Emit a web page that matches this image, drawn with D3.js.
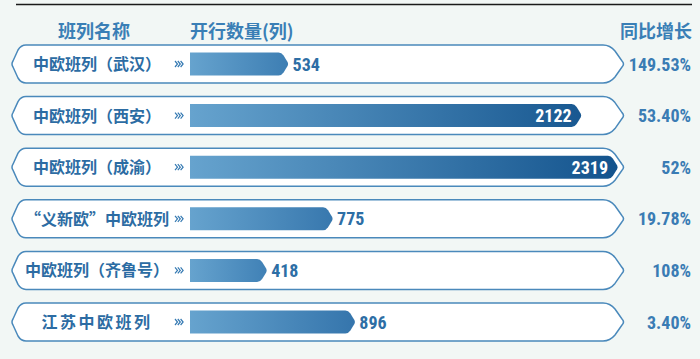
<!DOCTYPE html>
<html lang="zh">
<head>
  <meta charset="UTF-8">
  <title>中欧班列开行数量</title>
  <script src="https://d3js.org/d3.v7.min.js"></script>
  <style>
    * { margin: 0; padding: 0; box-sizing: border-box; }
    body { background: #f2f7f5; width: 700px; height: 359px; overflow: hidden; }
    svg { display: block; }
    .cjk { font-family: "Noto Sans CJK SC", sans-serif; font-weight: 700; }
    .num { font-family: "Liberation Sans Narrow", "Roboto Condensed", "Arial Narrow", sans-serif; font-weight: 700; }
  </style>
</head>
<body>
  <svg id="chart"></svg>
  <script>
    const names = ["中欧班列（武汉）", "中欧班列（西安）", "中欧班列（成渝）", "“义新欧”中欧班列", "中欧班列（齐鲁号）", "江苏中欧班列"];
    const trains = [534, 2122, 2319, 775, 418, 896];
    const growth = ["149.53%", "53.40%", "52%", "19.78%", "108%", "3.40%"];
    const headers = ["班列名称", "开行数量(列)", "同比增长"];

    const width = 700, height = 359;
    const rowH = 38, barH = 23;

    const svg = d3.select("#chart").attr("width", width).attr("height", height);

    const y = d3.scalePoint().domain(names).range([64, 322]);
    const x = d3.scaleLinear().domain([0, 2319]).range([190, 618]);
    const endColor = d3.scaleLinear().domain([0, 2319]).range(["#4a8bbf", "#13538d"]);

    // top rule
    svg.append("line")
      .attr("x1", 16).attr("x2", 692).attr("y1", 4.5).attr("y2", 4.5)
      .attr("stroke", "#1a1a1a").attr("stroke-width", 1.6);

    // headers
    svg.append("text").attr("class", "cjk")
      .attr("x", 94).attr("y", 38).attr("text-anchor", "middle")
      .attr("font-size", 18).attr("fill", "#3a7fb6").text(headers[0]);
    svg.append("text").attr("class", "cjk")
      .attr("x", 190).attr("y", 38)
      .attr("font-size", 18).attr("fill", "#3a7fb6").text(headers[1]);
    svg.append("text").attr("class", "cjk")
      .attr("x", 692).attr("y", 38).attr("text-anchor", "end")
      .attr("font-size", 18).attr("fill", "#3a7fb6").text(headers[2]);

    function capsule(cy) {
      const t = cy - rowH / 2, b = cy + rowH / 2;
      return `M26,${t} L603,${t} Q610,${t} 615,${t + 6} L622,${cy - 3} Q625,${cy} 622,${cy + 3}
              L615,${b - 6} Q610,${b} 603,${b} L26,${b} Q21,${b} 18,${b - 5}
              L13,${cy + 3} Q11,${cy} 13,${cy - 3} L18,${t + 5} Q21,${t} 26,${t} Z`;
    }

    function bar(v, cy) {
      const x0 = x(0), x1 = x(v), t = cy - barH / 2, b = cy + barH / 2;
      return `M${x0},${t} L${x1 - 10},${t} Q${x1 - 7},${t} ${x1 - 5},${t + 3} L${x1 - 1},${cy - 2}
              Q${x1},${cy} ${x1 - 1},${cy + 2} L${x1 - 5},${b - 3} Q${x1 - 7},${b} ${x1 - 10},${b} L${x0},${b} Z`;
    }

    const defs = svg.append("defs");
    trains.forEach((v, i) => {
      const g = defs.append("linearGradient").attr("id", "grad" + i)
        .attr("x1", "0%").attr("x2", "100%").attr("y1", "0%").attr("y2", "0%");
      g.append("stop").attr("offset", "0%").attr("stop-color", "#66a3ce");
      g.append("stop").attr("offset", "100%").attr("stop-color", endColor(v));
    });

    const rows = svg.selectAll(".row")
      .data(names.map((n, i) => ({ name: n, value: trains[i], growth: growth[i], i })))
      .enter().append("g").attr("class", "row");

    rows.append("path")
      .attr("d", d => capsule(y(d.name)))
      .attr("fill", "#ffffff")
      .attr("stroke", "#4a89bb")
      .attr("stroke-width", 1.5);

    rows.append("text").attr("class", "cjk")
      .attr("x", 97).attr("y", d => y(d.name) + 6)
      .attr("text-anchor", "middle")
      .attr("font-size", 16)
      .attr("letter-spacing", d => d.name.length < 8 ? 2.5 : 0)
      .attr("fill", "#2c6ca3")
      .text(d => d.name);

    // small chevrons
    rows.append("path")
      .attr("d", d => {
        const cy = y(d.name);
        return [0, 2.8, 5.6].map(o => `M${175 + o},${cy - 3} L${177.5 + o},${cy} L${175 + o},${cy + 3}`).join(" ");
      })
      .attr("fill", "none").attr("stroke", "#3479b2").attr("stroke-width", 1.2);

    rows.append("path")
      .attr("d", d => bar(d.value, y(d.name)))
      .attr("fill", d => `url(#grad${d.i})`);

    rows.append("text").attr("class", "num")
      .attr("x", d => x(d.value) - x(0) > 300 ? x(d.value) - 10 : x(d.value) + 4)
      .attr("y", d => y(d.name) + 6.5)
      .attr("text-anchor", d => x(d.value) - x(0) > 300 ? "end" : "start")
      .attr("font-size", 18)
      .attr("fill", d => x(d.value) - x(0) > 300 ? "#ffffff" : "#2d6ea5")
      .text(d => d.value);

    rows.append("text").attr("class", "num")
      .attr("x", 691).attr("y", d => y(d.name) + 6.5)
      .attr("text-anchor", "end")
      .attr("font-size", 18)
      .attr("fill", "#3a7cb4")
      .text(d => d.growth);
  </script>
</body>
</html>
